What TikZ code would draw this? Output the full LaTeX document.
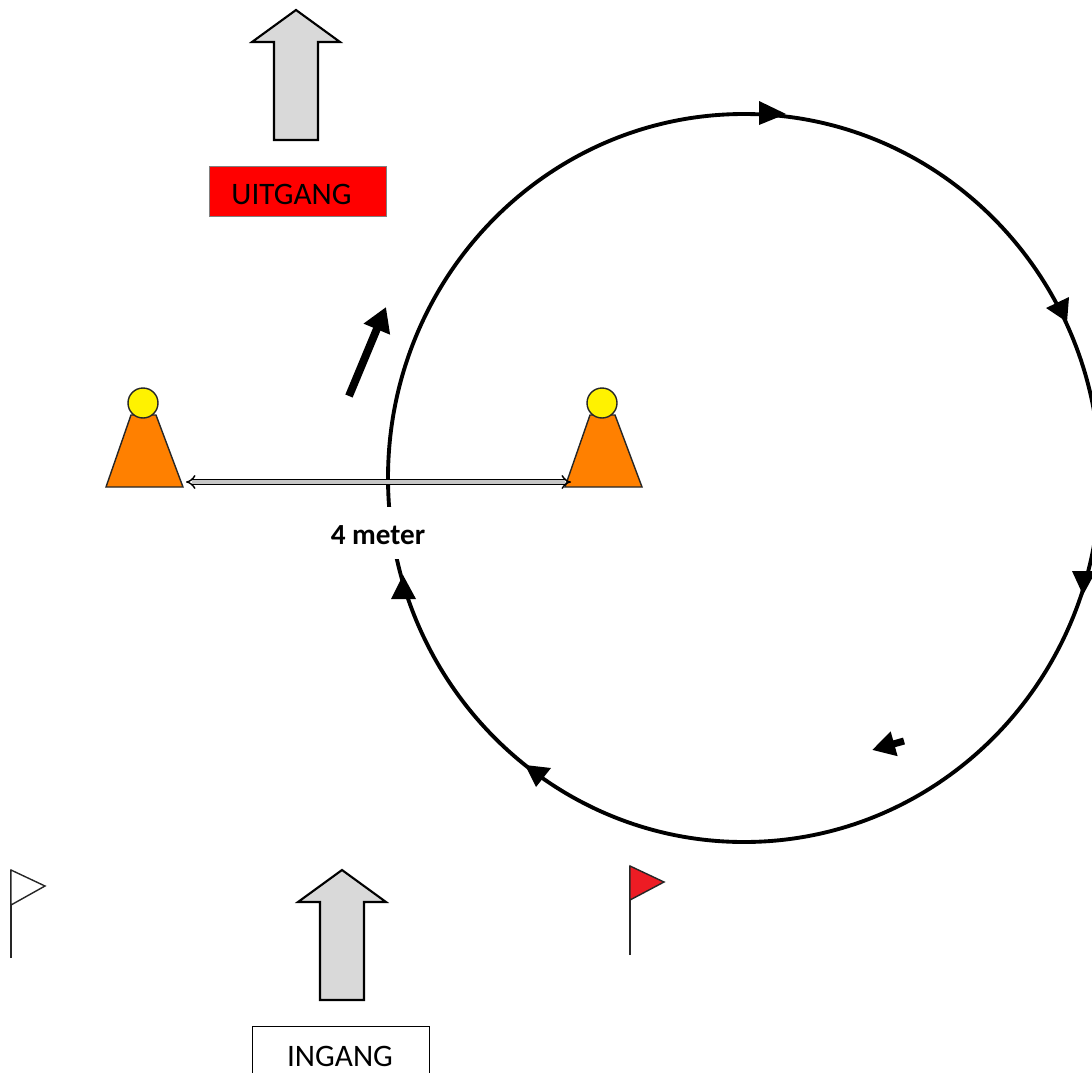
\documentclass[tikz,border=0pt]{standalone}
\usepackage{xcolor}
\usepackage{fontspec}
\setmainfont{Carlito}
\usetikzlibrary{arrows.meta}
\definecolor{conefill}{RGB}{255,128,0}
\definecolor{flagred}{RGB}{237,28,36}

\begin{document}
\begin{tikzpicture}[x=0.02cm, y=-0.02cm,
    bigarrow/.style={draw=black, line width=1.2pt, fill=gray!30, line join=miter},
    cone/.style={draw=black!85, line width=0.8pt, fill=conefill},
    ball/.style={draw=black!85, line width=0.8pt, fill=yellow},
    pole/.style={draw=black!85, line width=0.8pt},
    signbox/.style={anchor=center, inner sep=0pt, minimum width=3.54cm, minimum height=1.01cm},
    signtext/.style={anchor=center, font=\fontsize{17.8}{20}\selectfont}]
        \useasboundingbox (0, 0) rectangle (1092, 1072);
        \clip (0, 0) rectangle (1092, 1072);

        % grey arrows
        \foreach \x/\y in {296/10, 342/870} {
          \draw[bigarrow] (\x, \y) -- (\x+44, \y+32) -- (\x+22, \y+32) -- (\x+22, \y+130)
            -- (\x-22, \y+130) -- (\x-22, \y+32) -- (\x-44, \y+32) -- cycle;
        }

        % signs
        \node[signbox, draw=black!50, fill=red, line width=0.4pt] (uitgang) at (298, 191.5) {};
        \node[signtext] (uitgangtext) at (291.5, 194.5) {UITGANG};
        \node[signbox, draw=black, fill=white, line width=0.5pt] (ingang) at (341, 1052) {};
        \node[signtext] (ingangtext) at (340, 1056) {INGANG};

        % cones
        \foreach \x/\name in {0/left, 459/right} {
          \draw[cone] (\x+106, 487) -- (\x+131, 415) -- (\x+156, 415) -- (\x+183, 487) -- cycle;
          \draw[ball] (\x+143, 403) circle (15);
        }
        \coordinate (coneleft) at (186, 482);
        \coordinate (coneright) at (571, 482);
        \draw[line width=2.2pt] (744, 478) ellipse [x radius=356, y radius=364];
        \draw[{Implies}-{Implies}, double=gray!45, double distance=1.9pt, line width=0.8pt] (coneleft) -- (coneright);

        % track
        \foreach \ax/\ay/\bx/\by/\cx/\cy in {
          786/114/759/101/759/125,
          1067/322/1046/308/1069/297,
          1083/595/1072/571/1096/571,
          525/765/551/768/536/787,
          403/575/391/599/416/599} {
          \fill[black] (\ax, \ay) -- (\bx, \by) -- (\cx, \cy) -- cycle;
        }

        % walking direction
        \coordinate (uptail) at (349, 396);
        \coordinate (uphead) at (386, 307);
        \draw[line width=4.5pt, -{Triangle[length=0.48cm, width=0.54cm]}] (uptail) -- (uphead);
        \coordinate (downtail) at (904, 741);
        \coordinate (downhead) at (872, 750);
        \draw[line width=4pt, -{Triangle[length=0.46cm, width=0.48cm]}] (downtail) -- (downhead);

        % flags
        \draw[pole] (11, 958) -- (11, 870);
        \draw[pole, fill=white] (11, 870) -- (45, 886) -- (11, 905) -- cycle;
        \draw[pole] (630, 955) -- (630, 866);
        \draw[pole, fill=flagred] (630, 866) -- (664, 882) -- (630, 900) -- cycle;

        \node[fill=white, inner sep=0pt, minimum width=2.2cm, minimum height=1.04cm, font=\fontsize{16.6}{18}\selectfont\bfseries] (afstand) at (378, 533) {\raisebox{-6.4pt}[0pt][0pt]{4 meter}};
      \end{tikzpicture}
\end{document}
